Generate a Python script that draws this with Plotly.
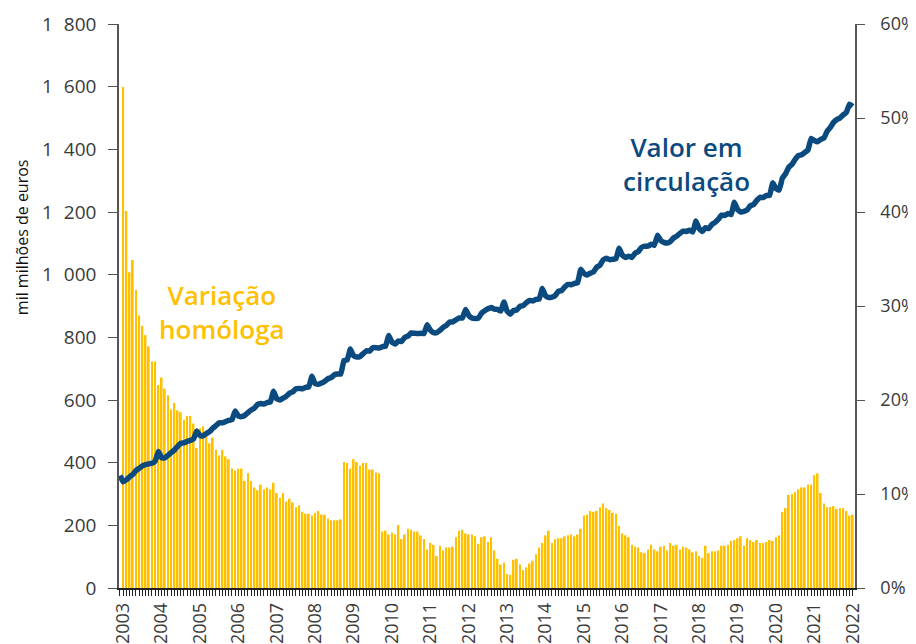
import plotly.graph_objects as go

# ---- data ----
years = [str(y) for y in range(2003, 2023)]

# Value in circulation (mil milhões de euros), monthly, Dec 2002 .. Jan 2022
circ_dec2002 = [358.5]
circ_2003 = [339, 345, 355, 362, 375, 382, 390, 394, 396, 398, 405, 436]
circ_2004 = [416, 415, 423, 432, 440, 452, 462, 463, 468, 471, 476, 501]
circ_2005 = [487, 486, 493, 499, 510, 518, 527, 527, 531, 535, 537, 565]
circ_2006 = [549, 547, 551, 560, 568, 574, 586, 589, 587, 592, 594, 628]
circ_2007 = [604, 600, 606, 612, 622, 626, 636, 637, 636, 640, 642, 676]
circ_2008 = [652, 650, 654, 660, 668, 671, 681, 683, 683, 726, 728, 763]
circ_2009 = [741, 737, 739, 748, 757, 756, 767, 767, 766, 770, 772, 806]
circ_2010 = [785, 779, 788, 787, 800, 804, 814, 813, 812, 813, 812, 840]
circ_2011 = [823, 815, 815, 822, 832, 838, 849, 849, 856, 862, 862, 889]
circ_2012 = [870, 862, 860, 861, 877, 885, 891, 895, 890, 889, 884, 913]
circ_2013 = [883, 874, 886, 887, 899, 901, 911, 918, 916, 921, 922, 956]
circ_2014 = [932, 927, 928, 933, 947, 949, 961, 969, 968, 972, 974, 1017]
circ_2015 = [1004, 999, 1005, 1009, 1024, 1030, 1047, 1052, 1048, 1049, 1051, 1084]
circ_2016 = [1062, 1055, 1059, 1055, 1069, 1074, 1087, 1091, 1091, 1097, 1094, 1126]
circ_2017 = [1109, 1103, 1101, 1106, 1117, 1123, 1132, 1139, 1138, 1142, 1136, 1171]
circ_2018 = [1147, 1138, 1150, 1147, 1161, 1167, 1177, 1190, 1189, 1195, 1192, 1231]
circ_2019 = [1208, 1200, 1202, 1207, 1220, 1224, 1237, 1247, 1246, 1253, 1253, 1293]
circ_2020 = [1275, 1270, 1308, 1322, 1343, 1352, 1368, 1380, 1383, 1390, 1398, 1435]
circ_2021 = [1428, 1424, 1432, 1436, 1458, 1470, 1486, 1495, 1500, 1510, 1518, 1544]
circ_2022 = [1537]

# Year-on-year change (%), monthly, Jan 2003 .. Jan 2022
yoy_2003 = [53.3, 40.1, 33.6, 34.9, 31.7, 29.0, 27.9, 26.9, 25.7, 24.1, 24.1, 21.6]
yoy_2004 = [22.4, 21.2, 20.5, 19.0, 19.7, 18.9, 18.7, 17.9, 18.3, 18.3, 17.5, 14.9]
yoy_2005 = [17.0, 17.2, 16.6, 15.4, 16.0, 14.7, 14.1, 14.7, 14.0, 13.7, 12.7, 12.5]
yoy_2006 = [12.7, 12.7, 11.4, 12.2, 11.4, 10.7, 10.4, 11.0, 10.5, 10.7, 10.5, 11.2]
yoy_2007 = [10.1, 9.6, 10.1, 9.2, 9.5, 9.1, 8.6, 8.8, 8.1, 7.9, 7.9, 7.7]
yoy_2008 = [8.0, 8.2, 7.8, 7.8, 7.4, 7.2, 7.2, 7.2, 7.3, 13.4, 13.3, 12.7]
yoy_2009 = [13.7, 13.4, 13.0, 13.3, 13.3, 12.6, 12.6, 12.3, 12.2, 6.0, 6.1, 5.7]
yoy_2010 = [5.9, 5.7, 6.7, 5.2, 5.7, 6.3, 6.2, 6.0, 6.0, 5.6, 5.2, 4.1]
yoy_2011 = [4.8, 4.6, 3.4, 4.5, 4.0, 4.3, 4.3, 4.4, 5.4, 6.1, 6.2, 5.8]
yoy_2012 = [5.7, 5.7, 5.5, 4.7, 5.4, 5.5, 4.9, 5.4, 4.0, 3.1, 2.5, 2.7]
yoy_2013 = [1.5, 1.4, 3.0, 3.1, 2.5, 1.9, 2.2, 2.6, 2.9, 3.6, 4.3, 4.8]
yoy_2014 = [5.6, 6.1, 4.8, 5.2, 5.3, 5.3, 5.5, 5.6, 5.7, 5.5, 5.7, 6.3]
yoy_2015 = [7.7, 7.8, 8.2, 8.1, 8.2, 8.6, 9.0, 8.5, 8.3, 8.0, 7.9, 6.6]
yoy_2016 = [5.8, 5.6, 5.4, 4.6, 4.4, 4.3, 3.8, 3.7, 4.1, 4.6, 4.1, 3.9]
yoy_2017 = [4.4, 4.5, 4.0, 4.8, 4.5, 4.6, 4.1, 4.4, 4.3, 4.1, 3.8, 3.9]
yoy_2018 = [3.4, 3.2, 4.5, 3.7, 3.9, 3.9, 4.0, 4.5, 4.5, 4.6, 5.0, 5.1]
yoy_2019 = [5.3, 5.5, 4.5, 5.3, 5.1, 4.9, 5.1, 4.8, 4.8, 4.9, 5.1, 5.0]
yoy_2020 = [5.4, 5.6, 8.1, 8.5, 9.9, 10.0, 10.2, 10.5, 10.7, 10.7, 11.0, 11.0]
yoy_2021 = [12.0, 12.2, 10.1, 9.0, 8.6, 8.6, 8.7, 8.4, 8.5, 8.5, 8.2, 7.7]
yoy_2022 = [7.8]

left_ticks = [0, 200, 400, 600, 800, 1000, 1200, 1400, 1600, 1800]
right_ticks = [0, 10, 20, 30, 40, 50, 60]

# ---- assemble ----
circ = (circ_dec2002 + circ_2003 + circ_2004 + circ_2005 + circ_2006 + circ_2007
        + circ_2008 + circ_2009 + circ_2010 + circ_2011 + circ_2012 + circ_2013
        + circ_2014 + circ_2015 + circ_2016 + circ_2017 + circ_2018 + circ_2019
        + circ_2020 + circ_2021 + circ_2022)
yoy = (yoy_2003 + yoy_2004 + yoy_2005 + yoy_2006 + yoy_2007 + yoy_2008 + yoy_2009
       + yoy_2010 + yoy_2011 + yoy_2012 + yoy_2013 + yoy_2014 + yoy_2015 + yoy_2016
       + yoy_2017 + yoy_2018 + yoy_2019 + yoy_2020 + yoy_2021 + yoy_2022)

x_line = list(range(-1, len(circ) - 1))   # month index, 0 = Jan 2003
x_bar = list(range(len(yoy)))
tick_pos = [12 * k for k in range(len(years))]

GOLD = "#FFC000"
BLUE = "#0B4A7F"
TXT = "#3a3a3a"
FONT = "Open Sans"
TICKSIZE = 19

fig = go.Figure()
fig.add_trace(go.Bar(x=x_bar, y=yoy, yaxis="y", width=0.58,
                     marker=dict(color=GOLD, line=dict(width=0)),
                     name="Variação homóloga"))
fig.add_trace(go.Scatter(x=x_line, y=circ, yaxis="y2", mode="lines",
                         line=dict(color=BLUE, width=5.5, shape="spline",
                                   smoothing=0.3),
                         name="Valor em circulação"))

# page body has an 8px margin: figure is 908x636 so it fits the 916x644 window
fig.update_layout(
    width=908, height=636,
    margin=dict(l=111, r=61, t=16, b=56, autoexpand=False),
    plot_bgcolor="white", paper_bgcolor="white",
    showlegend=False,
    separators=",\u2007",
    font=dict(family=FONT, color=TXT, size=TICKSIZE),
    xaxis=dict(
        range=[-1.3, 228.7], automargin=False,
        tickmode="array", tickvals=tick_pos, ticktext=years,
        tickangle=-90, tickfont=dict(size=18, color=TXT, family=FONT),
        ticks="outside", ticklen=6, tickcolor="#222222", tickwidth=1,
        minor=dict(dtick=1, tick0=0, ticks="outside", ticklen=6,
                   tickcolor="#222222", tickwidth=1),
        showline=True, linecolor="#222222", linewidth=1.5,
        showgrid=False, zeroline=False,
    ),
    yaxis=dict(
        side="right", range=[0, 60], automargin=False,
        tickmode="array", tickvals=right_ticks,
        ticktext=[f"{v}%" for v in right_ticks],
        tickfont=dict(size=18, color=TXT, family=FONT),
        ticks="outside", ticklen=8, tickcolor="#555555",
        ticklabelstandoff=12,
        showline=True, linecolor="#555555", linewidth=1.5,
        showgrid=False, zeroline=False,
    ),
    yaxis2=dict(
        overlaying="y", side="left", range=[0, 1800], automargin=False,
        tickmode="array", tickvals=left_ticks, tickformat=",",
        tickfont=dict(size=TICKSIZE, color=TXT, family=FONT),
        ticks="outside", ticklen=9, tickcolor="#555555",
        ticklabelstandoff=8,
        showline=True, linecolor="#555555", linewidth=1.5,
        showgrid=False, zeroline=False,
    ),
)

fig.add_annotation(text="mil milhões de euros", xref="paper", yref="paper",
                   x=-0.1318, y=0.622, xanchor="center", yanchor="middle",
                   showarrow=False, textangle=-90,
                   font=dict(size=16, color="#111111", family=FONT))
fig.add_annotation(text="Variação<br>homóloga", xref="paper", yref="paper",
                   x=0.1399, y=0.490, xanchor="center", yanchor="middle",
                   showarrow=False, align="center",
                   font=dict(size=26, color=GOLD, family=FONT, weight=600))
fig.add_annotation(text="Valor em<br>circulação", xref="paper", yref="paper",
                   x=0.7704, y=0.751, xanchor="center", yanchor="middle",
                   showarrow=False, align="center",
                   font=dict(size=26, color=BLUE, family=FONT, weight=600))

fig.write_html("out.html")
